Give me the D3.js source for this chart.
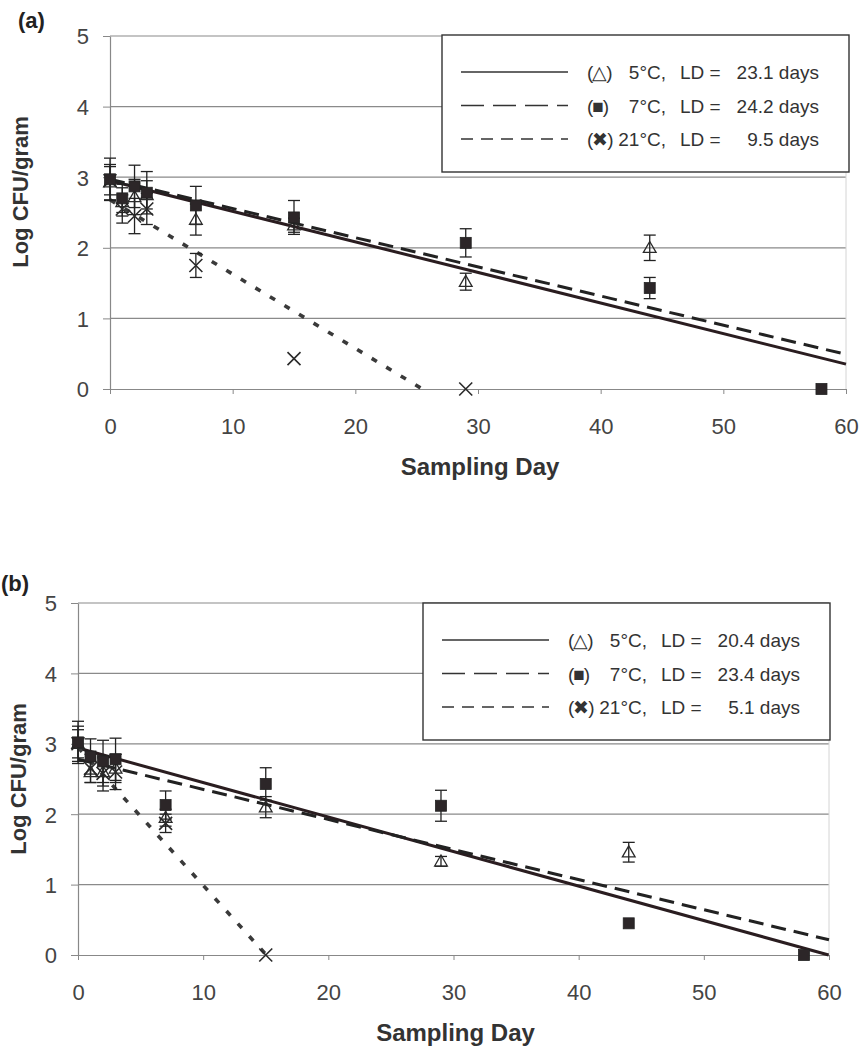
<!DOCTYPE html>
<html>
<head>
<meta charset="utf-8">
<script src="https://d3js.org/d3.v7.min.js"></script>
<style>
  body { margin: 0; background: #fff; }
  svg { font-family: "Liberation Sans", Arial, sans-serif; }
</style>
</head>
<body>
<div id="chart"></div>
<script>
// ---- data ----
const xTicks = [0, 10, 20, 30, 40, 50, 60]
const yTicks = [0, 1, 2, 3, 4, 5]
const legendSymbols = ["(\u25B3)", "(\u25A0)", "(\u2716)"]
const legendTemps = ["5\u00B0C,", "7\u00B0C,", "21\u00B0C,"]

// panel (a)
const a5Days  = [0, 1, 2, 3, 7, 15, 29, 44]
const a5Mean  = [2.93, 2.65, 2.72, 2.75, 2.40, 2.32, 1.52, 2.00]
const a5Err   = [0.25, 0.20, 0.25, 0.20, 0.22, 0.10, 0.12, 0.18]
const a7Days  = [0, 1, 2, 3, 7, 15, 29, 44, 58]
const a7Mean  = [2.97, 2.70, 2.87, 2.78, 2.60, 2.43, 2.07, 1.43, 0]
const a7Err   = [0.30, 0.20, 0.30, 0.30, 0.27, 0.24, 0.20, 0.15, 0]
const a21Days = [0, 1, 2, 3, 7, 15, 29]
const a21Mean = [2.95, 2.55, 2.45, 2.55, 1.75, 0.43, 0]
const a21Err  = [0.20, 0.20, 0.25, 0.22, 0.17, 0, 0]
const aIntercepts = [2.95, 2.97, 2.68]
const aLD = [23.1, 24.2, 9.5]

// panel (b)
const b5Days  = [0, 1, 2, 3, 7, 15, 29, 44]
const b5Mean  = [3.00, 2.60, 2.60, 2.65, 1.95, 2.10, 1.33, 1.46]
const b5Err   = [0.20, 0.15, 0.20, 0.20, 0.12, 0.15, 0.07, 0.14]
const b7Days  = [0, 1, 2, 3, 7, 15, 29, 44, 58]
const b7Mean  = [3.02, 2.82, 2.75, 2.78, 2.13, 2.43, 2.12, 0.45, 0]
const b7Err   = [0.30, 0.25, 0.30, 0.30, 0.20, 0.23, 0.22, 0, 0]
const b21Days = [0, 1, 2, 3, 7, 15]
const b21Mean = [3.00, 2.65, 2.58, 2.60, 1.87, 0]
const b21Err  = [0.25, 0.20, 0.25, 0.25, 0.13, 0]
const bIntercepts = [2.94, 2.78, 2.95]
const bLD = [20.4, 23.4, 5.1]

const svg = d3.select('#chart').append('svg')
  .attr('width', 860).attr('height', 1046)

const lineStyles = [
  {dash: null, color: '#2a1d20', width: 3},
  {dash: '15,8', color: '#222', width: 3},
  {dash: '6,11', color: '#3a3a3a', width: 3.6},
]
const legendDash = [null, '23,9', '12,8']

function drawPanel(p) {
  const x = d3.scaleLinear().domain([0, 60]).range([p.left, p.right])
  const y = d3.scaleLinear().domain([0, 5]).range([p.bottom, p.top])
  const g = svg.append('g')

  // grid
  g.selectAll('.grid').data(yTicks.filter(d => d > 0)).join('line')
    .attr('x1', p.left).attr('x2', p.right)
    .attr('y1', d => y(d)).attr('y2', d => y(d))
    .attr('stroke', '#8a8a8a').attr('stroke-width', 1.2)
  g.append('line').attr('x1', p.right).attr('x2', p.right)
    .attr('y1', p.top).attr('y2', p.bottom).attr('stroke', '#d4d4d4')

  // axes
  const xAxis = g.append('g').attr('transform', `translate(0,${p.bottom})`)
    .call(d3.axisBottom(x).tickValues(xTicks).tickFormat(d3.format('d'))
      .tickSize(5).tickPadding(24).tickSizeOuter(0))
  const yAxis = g.append('g').attr('transform', `translate(${p.left},0)`)
    .call(d3.axisLeft(y).tickValues(yTicks).tickFormat(d3.format('d'))
      .tickSize(7).tickPadding(14).tickSizeOuter(0))
  ;[xAxis, yAxis].forEach(ax => {
    ax.select('.domain').attr('stroke', '#888').attr('stroke-width', 1.2)
    ax.selectAll('.tick line').attr('stroke', '#888')
    ax.selectAll('text').attr('font-size', 22).attr('fill', '#444')
      .attr('font-family', '"Liberation Sans", Arial, sans-serif')
  })
  yAxis.selectAll('text').attr('dy', '0.36em')

  // regression lines
  p.intercepts.forEach((b0, i) => {
    const tEnd = Math.min(60, b0 * p.ld[i])
    g.append('line')
      .attr('x1', x(0)).attr('y1', y(b0))
      .attr('x2', x(tEnd)).attr('y2', y(b0 - tEnd / p.ld[i]))
      .attr('stroke', lineStyles[i].color)
      .attr('stroke-width', lineStyles[i].width)
      .attr('stroke-dasharray', lineStyles[i].dash)
  })

  // error bars
  const drawErr = (days, mean, err) => {
    const pts = days.map((d, i) => ({d, m: mean[i], e: err[i]})).filter(o => o.e > 0)
    const eg = g.append('g').attr('stroke', '#222').attr('stroke-width', 1.3)
    eg.selectAll('.v').data(pts).join('line')
      .attr('x1', o => x(o.d)).attr('x2', o => x(o.d))
      .attr('y1', o => y(o.m - o.e)).attr('y2', o => y(o.m + o.e))
    ;[-1, 1].forEach(s => {
      eg.selectAll('.c' + s).data(pts).join('line')
        .attr('x1', o => x(o.d) - 6).attr('x2', o => x(o.d) + 6)
        .attr('y1', o => y(o.m + s * o.e)).attr('y2', o => y(o.m + s * o.e))
    })
  }
  drawErr(p.d21, p.m21, p.e21)
  drawErr(p.d5, p.m5, p.e5)
  drawErr(p.d7, p.m7, p.e7)

  // 21C crosses
  g.selectAll('.cross').data(p.d21.map((d, i) => [d, p.m21[i]])).join('path')
    .attr('d', ([d, m]) => {
      const cx = x(d), cy = y(m), r = 6.5
      return `M${cx - r},${cy - r}L${cx + r},${cy + r}M${cx - r},${cy + r}L${cx + r},${cy - r}`
    })
    .attr('stroke', '#2a2a2a').attr('stroke-width', 1.6).attr('fill', 'none')

  // 5C open triangles
  g.selectAll('.tri').data(p.d5.map((d, i) => [d, p.m5[i]])).join('path')
    .attr('d', d3.symbol(d3.symbolTriangle, 70))
    .attr('transform', ([d, m]) => `translate(${x(d)},${y(m) + 1})`)
    .attr('fill', 'none').attr('stroke', '#2a2a2a').attr('stroke-width', 1.3)

  // 7C filled squares
  g.selectAll('.sq').data(p.d7.map((d, i) => [d, p.m7[i]])).join('rect')
    .attr('x', ([d]) => x(d) - 5.5).attr('y', ([, m]) => y(m) - 5.5)
    .attr('width', 11).attr('height', 11)
    .attr('fill', '#2c2628').attr('stroke', '#222').attr('stroke-width', 0.8)

  // legend
  const lg = g.append('g').attr('transform', `translate(${p.legX},${p.legY})`)
  lg.append('rect').attr('width', 407).attr('height', 137)
    .attr('fill', '#fff').attr('stroke', '#333').attr('stroke-width', 1.4)
  const rowY = [37, 70.5, 104]
  rowY.forEach((ry, i) => {
    lg.append('line').attr('x1', 19).attr('x2', 126).attr('y1', ry).attr('y2', ry)
      .attr('stroke', '#333').attr('stroke-width', 1.6)
      .attr('stroke-dasharray', legendDash[i])
    const t = lg.append('g').attr('font-size', 19).attr('fill', '#333')
    t.append('text').attr('x', 145).attr('y', ry + 7).attr('letter-spacing', -1).text(legendSymbols[i])
    t.append('text').attr('x', 224).attr('y', ry + 7).attr('text-anchor', 'end').text(legendTemps[i])
    t.append('text').attr('x', 238).attr('y', ry + 7).text('LD =')
    t.append('text').attr('x', 377).attr('y', ry + 7).attr('text-anchor', 'end')
      .text(p.ld[i].toFixed(1) + ' days')
  })

  // titles
  svg.append('text').attr('x', p.tagX).attr('y', p.tagY)
    .attr('font-size', 22).attr('font-weight', 'bold').attr('fill', '#222').text(p.tag)
  svg.append('text').attr('transform', `translate(${p.yTitleX},${p.yTitleY}) rotate(-90)`)
    .attr('text-anchor', 'middle').attr('font-size', 22).attr('font-weight', 'bold')
    .attr('fill', '#333').text('Log CFU/gram')
  svg.append('text').attr('x', (p.left + p.right) / 2 + 2).attr('y', p.bottom + 86)
    .attr('text-anchor', 'middle').attr('font-size', 24).attr('font-weight', 'bold')
    .attr('fill', '#333').text('Sampling Day')
}

drawPanel({
  left: 110, right: 846, top: 36, bottom: 389,
  d5: a5Days, m5: a5Mean, e5: a5Err, d7: a7Days, m7: a7Mean, e7: a7Err,
  d21: a21Days, m21: a21Mean, e21: a21Err,
  intercepts: aIntercepts, ld: aLD,
  legX: 442, legY: 35, tag: '(a)', tagX: 18, tagY: 28, yTitleX: 28, yTitleY: 192
})
drawPanel({
  left: 78, right: 829, top: 603, bottom: 955,
  d5: b5Days, m5: b5Mean, e5: b5Err, d7: b7Days, m7: b7Mean, e7: b7Err,
  d21: b21Days, m21: b21Mean, e21: b21Err,
  intercepts: bIntercepts, ld: bLD,
  legX: 423, legY: 603, tag: '(b)', tagX: 1, tagY: 591, yTitleX: 26, yTitleY: 779
})
</script>
</body>
</html>
